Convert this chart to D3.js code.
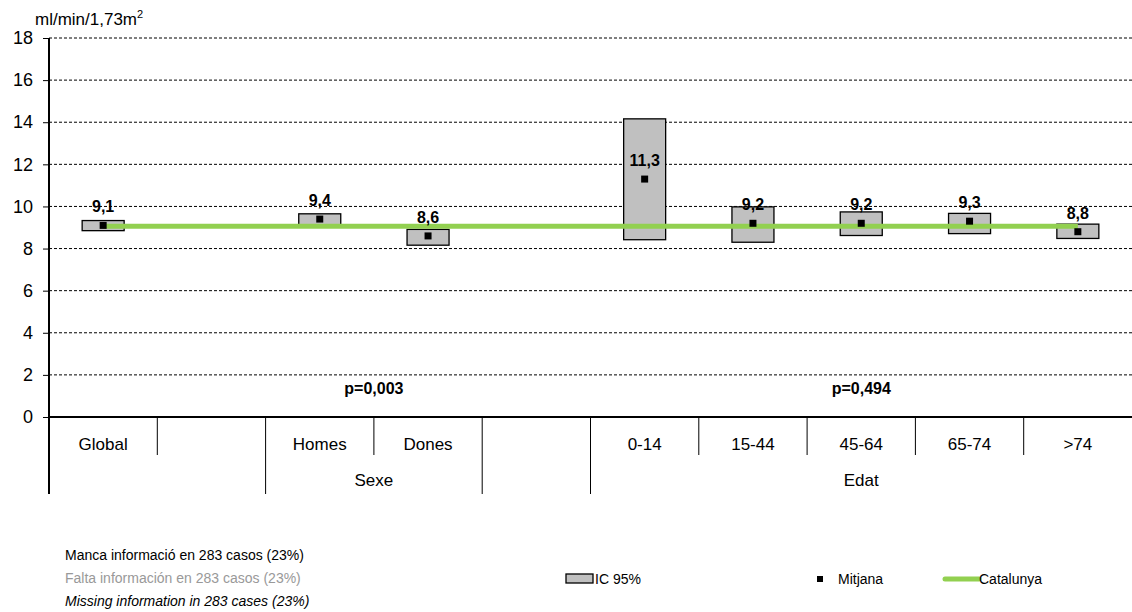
<!DOCTYPE html>
<html>
<head>
<meta charset="utf-8">
<script src="https://cdn.jsdelivr.net/npm/d3@7"></script>
<style>
  html, body { margin: 0; padding: 0; background: #fff; }
  svg { display: block; font-family: "Liberation Sans", Arial, sans-serif; }
</style>
</head>
<body>
<svg id="chart" width="1132" height="612"></svg>
<script>
// ---- data ----
const categories = ["Global", "", "Homes", "Dones", "", "0-14", "15-44", "45-64", "65-74", ">74"];
const groupLabels = ["", "Sexe", "", "Edat"];
const groupSpans = [2, 2, 1, 5];
const means  = [9.1, null, 9.4, 8.6, null, 11.3, 9.2, 9.2, 9.3, 8.8];
const ciLow  = [8.85, null, 9.1, 8.16, null, 8.42, 8.3, 8.62, 8.71, 8.48];
const ciHigh = [9.33, null, 9.65, 8.91, null, 14.16, 9.98, 9.74, 9.67, 9.16];
const catalunya = [9.06, 9.06, 9.06, 9.06, 9.06, 9.06, 9.06, 9.06, 9.06, 9.06];
const meanLabels = ["9,1", "", "9,4", "8,6", "", "11,3", "9,2", "9,2", "9,3", "8,8"];
const pValueLabels = ["", "p=0,003", "", "p=0,494"];
const yTicks = [0, 2, 4, 6, 8, 10, 12, 14, 16, 18];
const unitLabel = "ml/min/1,73m";
const notes = ["Manca informació en 283 casos (23%)", "Falta información  en 283 casos (23%)", "Missing information in 283 cases (23%)"];
const legendLabels = ["IC 95%", "Mitjana", "Catalunya"];

// ---- layout ----
const svg = d3.select("#chart");
const plotLeft = 49, plotRight = 1132, plotTop = 38, plotBottom = 417;
const idx = categories.map((_, i) => i);
const x = d3.scaleBand().domain(idx).range([plotLeft, plotRight]).padding(0);
const y = d3.scaleLinear().domain([0, 18]).range([plotBottom, plotTop]);
const boxW = 42;
const green = "#92D050";

// gridlines
svg.append("g").selectAll("line").data(yTicks.filter(d => d > 0)).join("line")
  .attr("x1", plotLeft).attr("x2", plotRight)
  .attr("y1", d => y(d)).attr("y2", d => y(d))
  .attr("stroke", "#000").attr("stroke-width", 1).attr("stroke-dasharray", "3,2");

// y axis
const yAxis = svg.append("g").attr("transform", `translate(${plotLeft},0)`)
  .call(d3.axisLeft(y).tickValues(yTicks).tickSize(6).tickPadding(10).tickFormat(d3.format("d")));
yAxis.select(".domain").remove();
yAxis.selectAll(".tick line").attr("stroke", "#000");
yAxis.selectAll(".tick text").attr("font-size", 18).attr("fill", "#000")
  .attr("font-family", "Liberation Sans, Arial, sans-serif");

// unit label
const ul = svg.append("text").attr("x", 35).attr("y", 25).attr("font-size", 17).attr("fill", "#000");
ul.append("tspan").text(unitLabel);
ul.append("tspan").attr("font-size", 11).attr("dy", -7).text("2");

// CI boxes
svg.append("g").selectAll("rect").data(idx.filter(i => means[i] !== null)).join("rect")
  .attr("x", i => x(i) + x.bandwidth() / 2 - boxW / 2)
  .attr("width", boxW)
  .attr("y", i => y(ciHigh[i]))
  .attr("height", i => y(ciLow[i]) - y(ciHigh[i]))
  .attr("fill", "#C0C0C0").attr("stroke", "#000").attr("stroke-width", 1.3);

// Catalunya line
const line = d3.line().x(i => x(i) + x.bandwidth() / 2).y(i => y(catalunya[i]));
svg.append("path").datum(idx).attr("d", line)
  .attr("fill", "none").attr("stroke", green).attr("stroke-width", 5);

// mean markers
svg.append("g").selectAll("rect").data(idx.filter(i => means[i] !== null)).join("rect")
  .attr("x", i => x(i) + x.bandwidth() / 2 - 3.5)
  .attr("y", i => y(means[i]) - 3.5)
  .attr("width", 7).attr("height", 7).attr("fill", "#000");

// mean labels
svg.append("g").selectAll("text").data(idx.filter(i => means[i] !== null)).join("text")
  .attr("x", i => x(i) + x.bandwidth() / 2)
  .attr("y", i => y(means[i]) - 13)
  .attr("text-anchor", "middle").attr("font-size", 16).attr("font-weight", "bold")
  .attr("fill", "#000").text(i => meanLabels[i]);

// axes lines
svg.append("line").attr("x1", plotLeft).attr("x2", plotRight).attr("y1", plotBottom).attr("y2", plotBottom)
  .attr("stroke", "#000").attr("stroke-width", 2);
svg.append("line").attr("x1", plotLeft).attr("x2", plotLeft).attr("y1", plotTop).attr("y2", 494)
  .attr("stroke", "#000").attr("stroke-width", 2);

// category separators and labels
const groupStarts = [];
let acc = 0;
groupSpans.forEach(s => { groupStarts.push(acc); acc += s; });
idx.slice(1).forEach(i => {
  const isGroupStart = groupStarts.includes(i);
  svg.append("line").attr("x1", x(i)).attr("x2", x(i))
    .attr("y1", plotBottom).attr("y2", isGroupStart ? 494 : 455)
    .attr("stroke", "#000").attr("stroke-width", 1);
});
svg.append("g").selectAll("text").data(idx).join("text")
  .attr("x", i => x(i) + x.bandwidth() / 2).attr("y", 450)
  .attr("text-anchor", "middle").attr("font-size", 17).attr("fill", "#000")
  .text(i => categories[i]);

// group labels + p-values
groupLabels.forEach((g, k) => {
  const s = groupStarts[k], e = s + groupSpans[k];
  const cx = (x(s) + (e < categories.length ? x(e) : plotRight)) / 2;
  svg.append("text").attr("x", cx).attr("y", 486).attr("text-anchor", "middle")
    .attr("font-size", 17).attr("fill", "#000").text(g);
  if (pValueLabels[k]) {
    svg.append("text").attr("x", cx).attr("y", 394).attr("text-anchor", "middle")
      .attr("font-size", 16).attr("font-weight", "bold").attr("fill", "#000").text(pValueLabels[k]);
  }
});

// notes
const noteColors = ["#000", "#999", "#000"];
notes.forEach((t, k) => {
  svg.append("text").attr("x", 65).attr("y", 560 + k * 23)
    .attr("font-size", 14).attr("fill", noteColors[k])
    .attr("font-style", k === 2 ? "italic" : "normal").text(t);
});

// legend
const ly = 579;
svg.append("rect").attr("x", 566).attr("y", ly - 5).attr("width", 27).attr("height", 9)
  .attr("fill", "#C0C0C0").attr("stroke", "#000").attr("stroke-width", 1.3);
svg.append("text").attr("x", 595).attr("y", ly + 5).attr("font-size", 14).text(legendLabels[0]);
svg.append("rect").attr("x", 817).attr("y", ly - 3).attr("width", 6).attr("height", 6).attr("fill", "#000");
svg.append("text").attr("x", 838).attr("y", ly + 5).attr("font-size", 14).text(legendLabels[1]);
svg.append("line").attr("x1", 945).attr("x2", 979).attr("y1", ly).attr("y2", ly)
  .attr("stroke", green).attr("stroke-width", 5).attr("stroke-linecap", "round");
svg.append("text").attr("x", 979).attr("y", ly + 5).attr("font-size", 14).text(legendLabels[2]);
</script>
</body>
</html>
